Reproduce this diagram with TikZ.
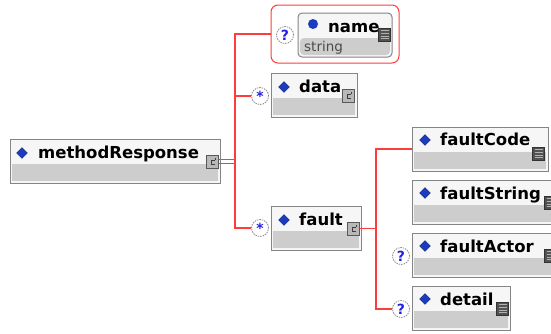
\documentclass[tikz,border=0pt]{standalone}
\usepackage{fontspec}
\setmainfont{DejaVu Sans}
\usetikzlibrary{shapes.geometric}

\definecolor{boxedge}{HTML}{858585}
\definecolor{boxtop}{HTML}{F6F6F6}
\definecolor{boxgray}{HTML}{CDCDCD}
\definecolor{dmdblue}{HTML}{1C3CC0}
\definecolor{cardblue}{HTML}{2222E0}
\definecolor{cardedge}{HTML}{8A8A8A}
\definecolor{linkred}{HTML}{FF3C3C}
\definecolor{typegray}{HTML}{4A4A4A}

\tikzset{
  elem/.style={draw=boxedge, line width=1pt, fill=boxtop, minimum height=44pt, inner sep=0pt,
    path picture={\fill[boxgray] ([shift={(2pt,2pt)}]path picture bounding box.south west)
      rectangle ([shift={(-2pt,-3pt)}]path picture bounding box.east);}},
  ename/.style={font=\bfseries\fontsize{16.5}{18}\selectfont, anchor=base west, inner sep=0pt},
  dmd/.style={diamond, fill=dmdblue, draw=dmdblue!60!black, line width=.3pt,
    minimum width=11pt, minimum height=11pt, inner sep=0pt},
  % content model icon of a complex type
  cplx/.style={draw=black!65, fill=black!28, line width=.7pt, minimum width=12pt,
    minimum height=13pt, inner sep=0pt, anchor=north east,
    path picture={\draw[black!75, line width=.8pt]
      ([shift={(2pt,1.5pt)}]path picture bounding box.center) -- ++(-3.5pt,0pt)
      -- ++(0pt,-4.5pt) -- ++(4pt,0pt);
      \draw[black!75, line width=.8pt]
      ([shift={(2.5pt,4pt)}]path picture bounding box.center) -- ++(0pt,-2.5pt);}},
  % simple type icon
  smpl/.style={draw=black!80, fill=black!68, line width=.7pt, minimum width=12pt,
    minimum height=13pt, inner sep=0pt, anchor=north east,
    path picture={\foreach \k in {1,...,4}
      \draw[black!30, line width=.9pt]
      ([shift={(-4pt,{(7.2-\k*2.8)*1pt})}]path picture bounding box.center) -- ++(8pt,0pt);}},
  card/.style={circle, draw=cardedge, dash pattern=on 1.5pt off 1pt, fill=white,
    line width=.8pt, minimum size=17pt, inner sep=0pt, text=cardblue,
    font=\bfseries\fontsize{14}{14}\selectfont},
  link/.style={draw=linkred, line width=1.2pt},
}

\begin{document}
\begin{tikzpicture}[x=1pt,y=-1pt]
  \useasboundingbox (0,0) rectangle (551,333);
  \fill[white] (0,0) rectangle (551,333);
  \clip (0,0) rectangle (551,333);

  % root element
  \node[elem, minimum width=210pt] (mr) at (115,161) {};
  \node[dmd] (mr-d) at (22,153) {};
  \node[ename] (mr-t) at (38,158) {methodResponse};
  \node[cplx] (mr-i) at (219,155) {};

  % optional attribute group
  \node[draw=linkred, line width=1pt, rounded corners=7pt, minimum width=128pt,
    minimum height=58pt] (nmopt) at (335,34) {};
  \node[card] (nm-q) at (285,35) {?};
  \node[elem, rounded corners=4pt, minimum width=94pt] (nm) at (345,35) {};
  \node[circle, fill=dmdblue, minimum size=10pt, inner sep=0pt] (nm-d) at (313,24) {};
  \node[ename] (nm-t) at (328,32) {name};
  \node[font=\fontsize{13.5}{14}\selectfont, text=typegray, anchor=base west,
    inner sep=0pt] (nm-s) at (304,51) {string};
  \node[smpl] (nm-i) at (391,28) {};

  \node[card] (dt-q) at (260,96) {\raisebox{-4pt}{*}};
  \node[elem, minimum width=86pt] (dt) at (314,95) {};
  \node[dmd] (dt-d) at (284,87) {};
  \node[ename] (dt-t) at (299,92) {data};
  \node[cplx] (dt-i) at (355,89) {};

  \node[card] (ft-q) at (260,228) {\raisebox{-4pt}{*}};
  \node[elem, minimum width=90pt] (ft) at (316,228) {};
  \node[dmd] (ft-d) at (284,220) {};
  \node[ename] (ft-t) at (299,225) {fault};
  \node[cplx] (ft-i) at (360,222) {};

  % children of fault
  \node[elem, minimum width=136pt] (fc) at (480,149) {};
  \node[dmd] (fc-d) at (425,140) {};
  \node[ename] (fc-t) at (440,145) {faultCode};
  \node[smpl] (fc-i) at (545,147) {};

  \node[elem, minimum width=146pt] (fs) at (485,202) {};
  \node[dmd] (fs-d) at (425,193) {};
  \node[ename] (fs-t) at (440,199) {faultString};
  \node[smpl] (fs-i) at (557,196) {};

  \node[card] (fa-q) at (401,256) {?};
  \node[elem, minimum width=146pt] (fa) at (485,255) {};
  \node[dmd] (fa-d) at (425,246) {};
  \node[ename] (fa-t) at (440,252) {faultActor};
  \node[smpl] (fa-i) at (557,249) {};

  \node[card] (de-q) at (401,309) {?};
  \node[elem, minimum width=98pt] (de) at (461,308) {};
  \node[dmd] (de-d) at (425,299) {};
  \node[ename] (de-t) at (440,305) {detail};
  \node[smpl] (de-i) at (509,302) {};

  % sequence lines
  \coordinate (mrfork) at (235,160);
  \draw[link] ([yshift=2pt]mr-i.east) -- ([yshift=2pt]mr-i.east -| mrfork);
  \draw[link] ([yshift=-2pt]mr-i.east) -- ([yshift=-2pt]mr-i.east -| mrfork);
  \draw[link] (mrfork) |- (nmopt.west);
  \draw[link] (mrfork) |- (dt-q.west);
  \draw[link] (mrfork) |- (ft-q.west);

  \coordinate (ftfork) at (376,228);
  \draw[link] (ft-i.east) -- (ft-i.east -| ftfork);
  \draw[link] (ftfork) |- (fc.west);
  \draw[link] (ftfork) |- (de-q.west);
\end{tikzpicture}
\end{document}
